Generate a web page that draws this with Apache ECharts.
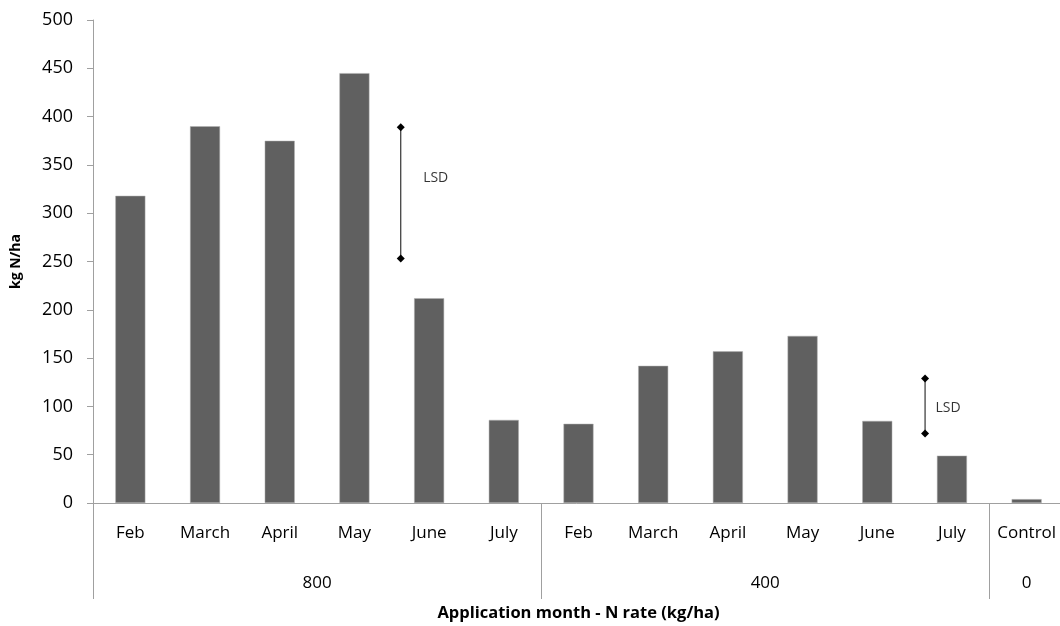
<!DOCTYPE html>
<html>
<head>
<meta charset="utf-8">
<script src="https://cdn.jsdelivr.net/npm/echarts@6/dist/echarts.min.js"></script>
<style>
  html, body { margin: 0; padding: 0; background: #fff; }
  #chart { width: 1060px; height: 626px; }
</style>
</head>
<body>
<div id="chart"></div>
<script>
var months = ['Feb', 'March', 'April', 'May', 'June', 'July',
              'Feb', 'March', 'April', 'May', 'June', 'July', 'Control'];
var values = [318, 390, 375, 445, 212, 86, 82, 142, 157, 173, 85, 49, 4];

// group labels on half-category steps (27 points across 13 categories)
var groupNames = ['800', '400', '0'];
var groupCenters = [6, 18, 25];
var groupBounds = [0, 12, 24, 26];

// LSD bars (x in category units from left edge)
var lsdX = [4.12, 11.14];
var lsdTop = [389, 129];
var lsdBottom = [253, 72];
var lsdLabelX = [4.42, 11.28];
var lsdLabelY = [336, 98];

var groupData = [];
for (var i = 0; i < 27; i++) {
    var k = groupCenters.indexOf(i);
    groupData.push(k >= 0 ? groupNames[k] : '');
}

var font = '"Open Sans", "DejaVu Sans", sans-serif';
var axisGray = '#a0a0a0';
var textColor = '#000';

var myChart = echarts.init(document.getElementById('chart'));

var series = [{
    type: 'bar',
    xAxisIndex: 0,
    data: values,
    barWidth: 30,
    itemStyle: { color: '#606060', borderColor: '#b0b0b0', borderWidth: 0.5 },
    silent: true
}];

lsdX.forEach(function (x, i) {
    series.push({
        type: 'line',
        xAxisIndex: 2,
        data: [[x, lsdTop[i]], [x, lsdBottom[i]]],
        symbol: 'diamond',
        symbolSize: 8,
        itemStyle: { color: '#000' },
        lineStyle: { color: '#333', width: 1.2 },
        silent: true
    });
    series.push({
        type: 'scatter',
        xAxisIndex: 2,
        data: [[lsdLabelX[i], lsdLabelY[i]]],
        symbolSize: 0,
        label: {
            show: true,
            position: 'right',
            distance: 0,
            formatter: 'LSD',
            fontFamily: font,
            fontSize: 14,
            color: textColor
        },
        silent: true
    });
});

var option = {
    animation: false,
    grid: { left: 93, right: -4, top: 20, bottom: 123, outerBoundsMode: 'none', containLabel: false },
    xAxis: [{
        type: 'category',
        data: months,
        axisLine: { lineStyle: { color: axisGray } },
        axisTick: { interval: 0, length: 48, lineStyle: { color: axisGray } },
        axisLabel: { interval: 0, margin: 22, fontFamily: font, fontSize: 17, color: textColor },
        name: 'Application month - N rate (kg/ha)',
        nameLocation: 'middle',
        nameGap: 102,
        nameTextStyle: { fontFamily: font, fontSize: 16.5, fontWeight: 'bold', color: textColor }
    }, {
        type: 'category',
        position: 'bottom',
        data: groupData,
        boundaryGap: false,
        axisLine: { show: false },
        axisTick: {
            interval: function (index) { return groupBounds.indexOf(index) >= 0; },
            length: 96,
            lineStyle: { color: axisGray }
        },
        axisLabel: { interval: 0, margin: 72, fontFamily: font, fontSize: 17, color: textColor }
    }, {
        type: 'value',
        min: 0,
        max: 13,
        show: false
    }],
    yAxis: {
        type: 'value',
        min: 0,
        max: 500,
        interval: 50,
        name: 'kg N/ha',
        nameLocation: 'middle',
        nameGap: 70,
        nameTextStyle: { fontFamily: font, fontSize: 14, fontWeight: 'bold', color: textColor },
        axisLine: { show: true, lineStyle: { color: axisGray } },
        axisTick: { show: true, length: 6, lineStyle: { color: axisGray } },
        splitLine: { show: false },
        axisLabel: { margin: 20, fontFamily: font, fontSize: 18, color: textColor }
    },
    series: series
};

myChart.setOption(option, true);
window.addEventListener('resize', function () {
    myChart.resize();
});
</script>
</body>
</html>
